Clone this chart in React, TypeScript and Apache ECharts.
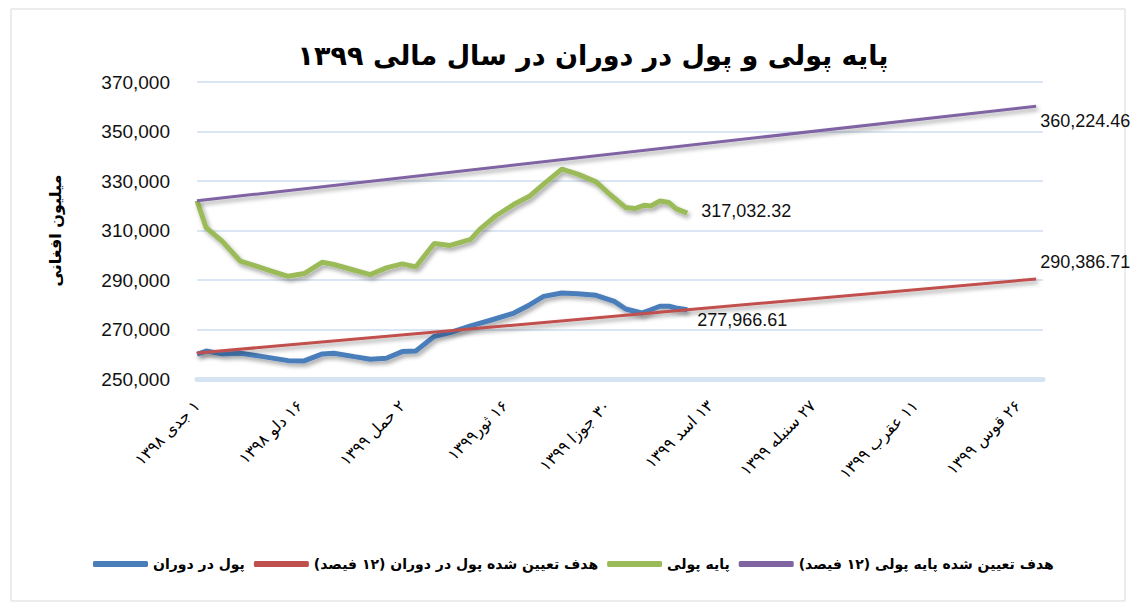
import React, { useEffect, useRef } from "react";
import * as echarts from "echarts";

// x positions are days since 1 Jadi 1398
const tickLabels = [
  "۱ جدی ۱۳۹۸",
  "۱۶ دلو ۱۳۹۸",
  "۲ حمل ۱۳۹۹",
  "۱۶ ثور۱۳۹۹",
  "۳۰ جوزا ۱۳۹۹",
  "۱۳ اسد ۱۳۹۹",
  "۲۷ سنبله ۱۳۹۹",
  "۱۱ عقرب ۱۳۹۹",
  "۲۶ قوس ۱۳۹۹",
];

const baseDays = [0, 4, 11, 19, 26, 33, 40, 47, 55, 60, 69, 76, 83, 90, 96, 104, 111, 120, 124, 131, 139, 146, 152, 160, 167, 175, 181, 188, 192, 196, 199, 203, 207, 210, 215];
const baseValues = [322000, 311140, 305700, 297590, 295560, 293530, 291500, 292600, 297180, 296250, 293940, 292190, 294910, 296530, 295320, 304770, 303960, 306390, 310450, 315850, 320590, 323960, 328710, 334790, 332760, 329640, 324650, 319250, 318850, 320190, 319900, 321930, 321280, 318850, 317032.32];

const circDays = [0, 4, 11, 19, 29, 40, 47, 55, 60, 69, 76, 83, 90, 96, 104, 111, 120, 128, 139, 146, 152, 160, 167, 175, 183, 188, 195, 199, 203, 207, 210, 215];
const circValues = [260000, 261300, 260140, 260430, 259050, 257420, 257300, 260140, 260430, 259050, 257990, 258400, 261080, 261360, 267160, 268780, 271500, 273530, 276650, 280020, 283390, 284770, 284480, 283800, 281360, 278280, 276650, 277990, 279400, 279400, 278700, 277966.61];

const targetDays = [0, 368];
const circTarget = [260500, 290386.71];
const baseTarget = [322000, 360224.46];

const seriesNames = [
  "پول در دوران",
  "هدف تعیین شده پول در دوران (۱۲ فیصد)",
  "پایه پولی",
  "هدف تعیین شده پایه پولی (۱۲ فیصد)",
];

const numFont = "'Liberation Sans', Arial, sans-serif";
const faFont = "'DejaVu Sans', 'Noto Sans', sans-serif";
const RLM = "\u200F";

function fmt(v: number) {
  return v.toLocaleString("en-US", { minimumFractionDigits: 2, maximumFractionDigits: 2 });
}

function toData(days: number[], vals: number[]) {
  return days.map((d, i) => [d, vals[i]]);
}

export default function App() {
  const ref = useRef<HTMLDivElement>(null);
  useEffect(() => {
    if (!ref.current) return;
    const chart = echarts.init(ref.current, null, { renderer: "svg" });
    const shadow = {
      shadowColor: "rgba(0,0,0,0.35)",
      shadowBlur: 4,
      shadowOffsetX: 2,
      shadowOffsetY: 3,
    };
    const endLabel = (vals: number[], offset: [number, number]) => ({
      show: true,
      offset,
      distance: 4,
      formatter: () => fmt(vals[vals.length - 1]),
      fontFamily: numFont,
      fontSize: 18,
      color: "#111",
    });
    chart.setOption({
      animation: false,
      backgroundColor: "#fff",
      title: {
        text: "پایه پولی و پول در دوران در سال مالی ۱۳۹۹",
        left: 588,
        textAlign: "center",
        top: 37,
        textStyle: { fontFamily: faFont, fontSize: 27, fontWeight: "bold", color: "#000" },
      },
      graphic: [
        {
          type: "rect",
          shape: { x: 11, y: 9, width: 1114, height: 592 },
          style: { fill: "none", stroke: "#d9d9d9", lineWidth: 1 },
          silent: true,
        },
      ],
      legend: {
        bottom: 36,
        left: 88,
        itemWidth: 55,
        itemHeight: 6,
        itemGap: 9,
        icon: "roundRect",
        data: seriesNames,
        textStyle: { fontFamily: faFont, fontSize: 14, fontWeight: "bold", color: "#000" },
      },
      grid: { left: 197, right: 92, top: 82, bottom: 233, containLabel: false },
      xAxis: {
        type: "value",
        min: 0,
        max: 371,
        interval: 45,
        splitLine: { show: false },
        axisTick: { show: false },
        axisLine: { show: true, lineStyle: { color: "#d6e3f3", width: 5, type: [1.5, 1] } },
        axisLabel: {
          rotate: 45,
          margin: 24,
          fontFamily: faFont,
          fontSize: 16,
          color: "#000",
          formatter: (v: number) => {
            const i = Math.round(v / 45);
            return Math.abs(v - i * 45) < 0.01 && tickLabels[i] ? RLM + tickLabels[i] : "";
          },
        },
      },
      yAxis: {
        type: "value",
        min: 250000,
        max: 370000,
        interval: 20000,
        name: "میلیون افغانی",
        nameLocation: "middle",
        nameGap: 134,
        nameTextStyle: { fontFamily: faFont, fontSize: 16, fontWeight: "bold", color: "#000" },
        axisLine: { show: false },
        axisTick: { show: false },
        splitLine: { lineStyle: { color: "#dbe6f4", width: 2 } },
        axisLabel: {
          margin: 27,
          fontFamily: numFont,
          fontSize: 19,
          color: "#111",
          formatter: (v: number) => v.toLocaleString("en-US"),
        },
      },
      series: [
        {
          name: seriesNames[0],
          type: "line",
          symbol: "none",
          color: "#4a7ebb",
          lineStyle: { width: 5, color: "#4a7ebb", ...shadow },
          endLabel: endLabel(circValues, [6, 10]),
          data: toData(circDays, circValues),
          z: 4,
        },
        {
          name: seriesNames[1],
          type: "line",
          symbol: "none",
          color: "#c0504d",
          lineStyle: { width: 3, color: "#c0504d", ...shadow },
          endLabel: endLabel(circTarget, [0, -17]),
          data: toData(targetDays, circTarget),
          z: 5,
        },
        {
          name: seriesNames[2],
          type: "line",
          symbol: "none",
          color: "#9bbb59",
          lineStyle: { width: 5, color: "#9bbb59", ...shadow },
          endLabel: endLabel(baseValues, [10, -2]),
          data: toData(baseDays, baseValues),
          z: 3,
        },
        {
          name: seriesNames[3],
          type: "line",
          symbol: "none",
          color: "#8064a2",
          lineStyle: { width: 3, color: "#8064a2", ...shadow },
          endLabel: endLabel(baseTarget, [0, 15]),
          data: toData(targetDays, baseTarget),
          z: 3,
        },
      ],
    });
    return () => chart.dispose();
  }, []);
  return (
    <div
      ref={ref}
      style={{ position: "fixed", left: 0, top: 0, width: 1135, height: 612 }}
    />
  );
}
